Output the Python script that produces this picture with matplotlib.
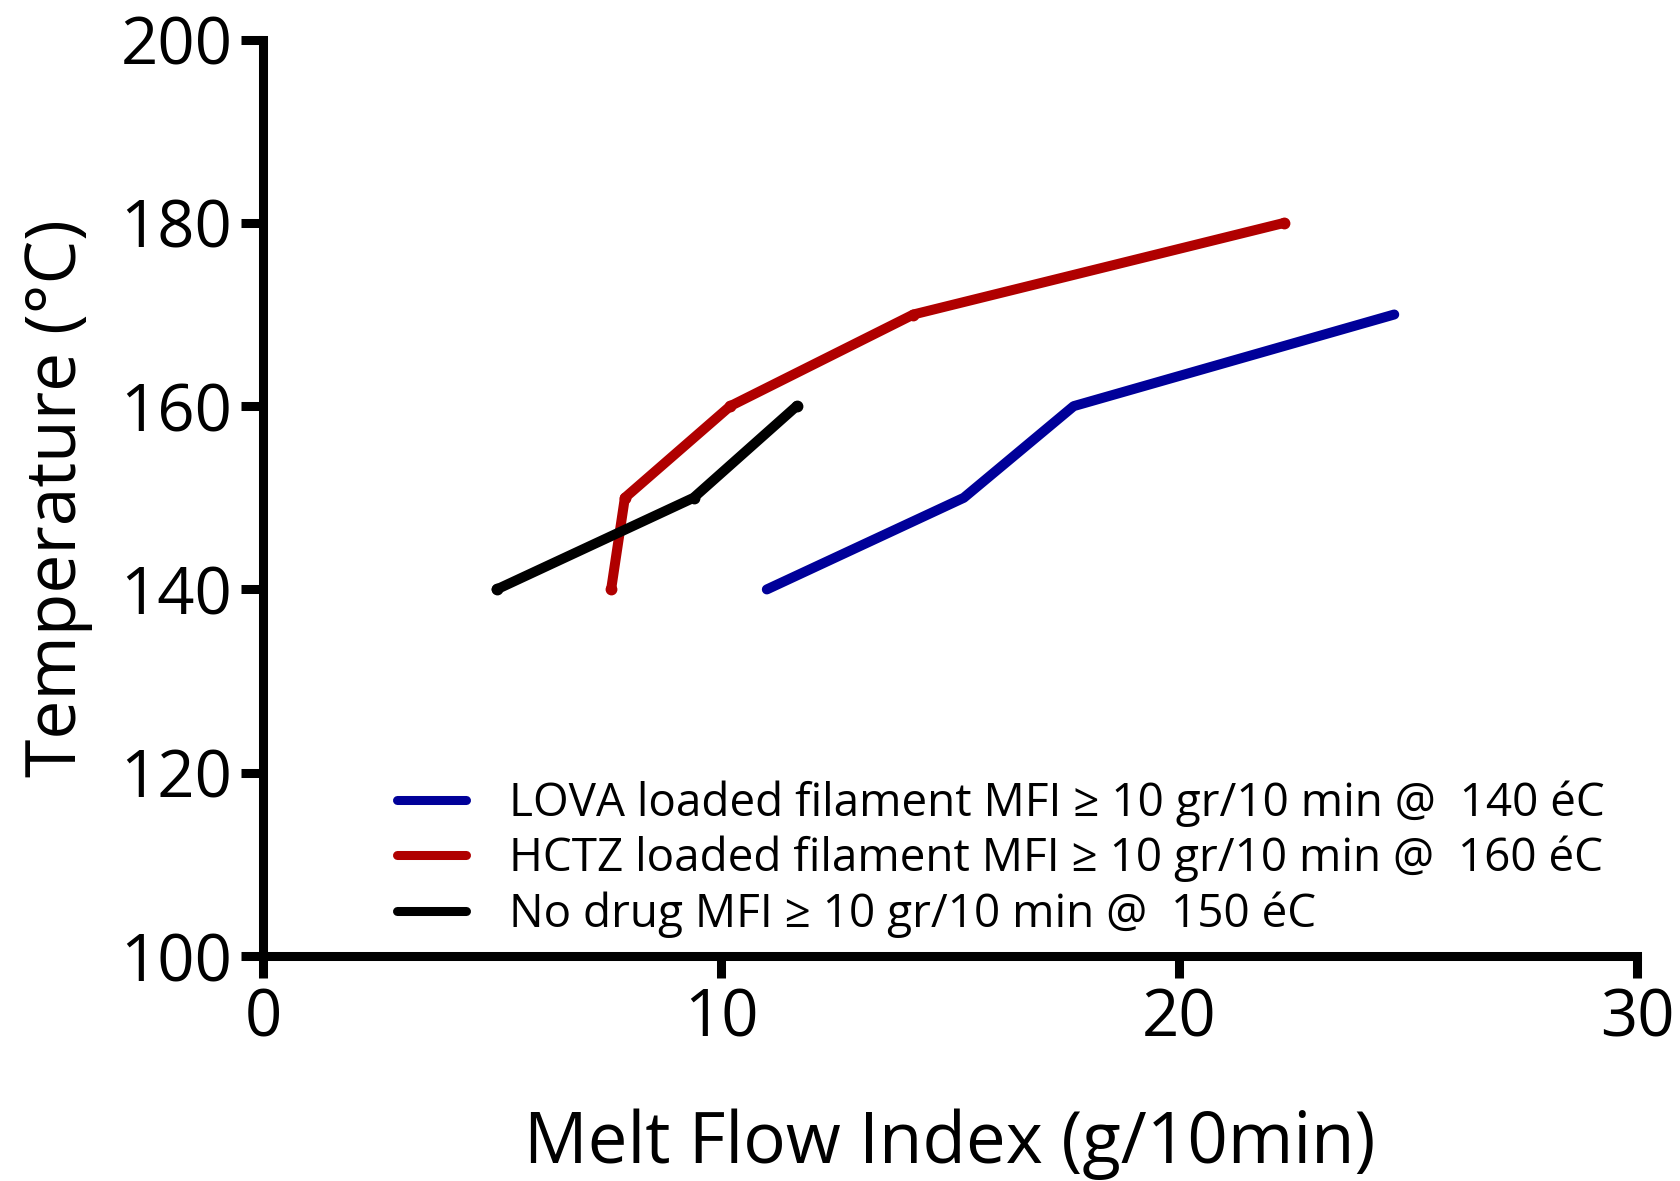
import matplotlib
matplotlib.use("Agg")
import matplotlib.pyplot as plt

# data
lova_mfi = [11.0, 15.3, 17.7, 24.7]
lova_temp = [140, 150, 160, 170]
hctz_mfi = [7.6, 7.9, 10.2, 14.2, 22.3]
hctz_temp = [140, 150, 160, 170, 180]
nodrug_mfi = [5.1, 9.4, 11.65]
nodrug_temp = [140, 150, 160]

labels = [
    "LOVA loaded filament MFI \u2265 10 gr/10 min @  140 \u00e9C",
    "HCTZ loaded filament MFI \u2265 10 gr/10 min @  160 \u00e9C",
    "No drug MFI \u2265 10 gr/10 min @  150 \u00e9C",
]
x_ticks = [0, 10, 20, 30]
y_ticks = [100, 120, 140, 160, 180, 200]

plt.rcParams['font.family'] = ['Open Sans', 'DejaVu Sans']

fig = plt.figure(figsize=(16.81, 11.81), dpi=100)
ax = fig.add_axes([0.1565, 0.1905, 0.8173, 0.776])

lw = 7.2
ax.plot(lova_mfi, lova_temp, color="#000099", lw=lw, label=labels[0],
        solid_capstyle="round", solid_joinstyle="round")
ax.plot(hctz_mfi, hctz_temp, color="#B00000", lw=lw, label=labels[1],
        marker="o", markersize=7.5, solid_capstyle="round", solid_joinstyle="round")
ax.plot(nodrug_mfi, nodrug_temp, color="black", lw=lw, label=labels[2],
        marker="o", markersize=7.5, solid_capstyle="round", solid_joinstyle="round")

ax.set_xlim(0, 30)
ax.set_ylim(100, 200)
ax.set_xticks(x_ticks)
ax.set_yticks(y_ticks)
for s in ["top", "right"]:
    ax.spines[s].set_visible(False)
for s in ["left", "bottom"]:
    ax.spines[s].set_linewidth(6.5)
ax.tick_params(width=6.5, length=16, labelsize=47, pad=6)

ax.set_xlabel("Melt Flow Index (g/10min)", fontsize=51, labelpad=40)
ax.set_ylabel("Temperature (\u00b0C)", fontsize=50, labelpad=20)

leg = ax.legend(loc="upper left", bbox_to_anchor=(0.0975, 0.192), frameon=False,
                fontsize=33, handlelength=1.5, handletextpad=0.95,
                labelspacing=0.2, borderpad=0, borderaxespad=0)
for line in leg.get_lines():
    line.set_marker("")
    line.set_linewidth(6.5)

fig.savefig("out.png", dpi=100)
